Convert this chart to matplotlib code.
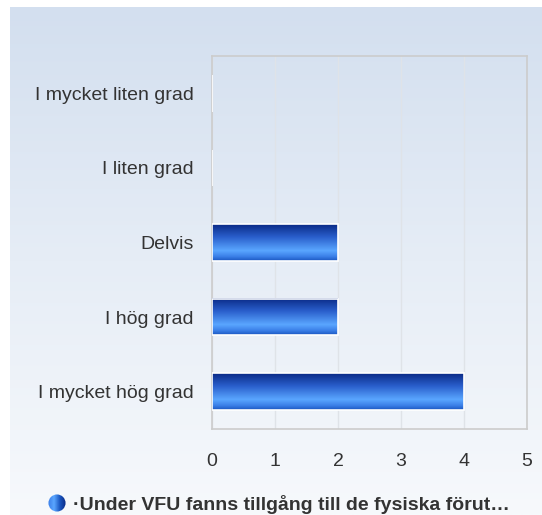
import numpy as np
import matplotlib
matplotlib.use("Agg")
import matplotlib.pyplot as plt
from matplotlib.colors import LinearSegmentedColormap
from matplotlib.patches import Rectangle, Circle

categories = ["I mycket liten grad", "I liten grad", "Delvis", "I hög grad", "I mycket hög grad"]
values = [0, 0, 2, 2, 4]
series_name = "·Under VFU fanns tillgång till de fysiska förut…"
xticks = [0, 1, 2, 3, 4, 5]

plt.rcParams['font.family'] = ['Liberation Sans', 'DejaVu Sans']

fig = plt.figure(figsize=(5.42, 5.15), dpi=100)
fig.patch.set_facecolor("white")

# background panel gradient
bg = fig.add_axes([10/542, 0, 1 - 10/542, (515-7)/515], zorder=0)
bg_cmap = LinearSegmentedColormap.from_list("bg", ["#d3dfef", "#e6edf6", "#f7f9fc"])
bg.imshow(np.linspace(0, 1, 256).reshape(-1, 1), cmap=bg_cmap, aspect="auto",
          extent=(0, 1, 0, 1), origin="upper")
bg.set_axis_off()

ax = fig.add_axes([212/542, (515-429)/515, 315/542, 373/515], zorder=1)
ax.set_facecolor("none")
ax.set_xlim(0, 5)
n = len(categories)
ax.set_ylim(n - 0.5, -0.5)

bar_cmap = LinearSegmentedColormap.from_list(
    "bar", [(0.0, "#0a2a86"), (0.35, "#2a5fcc"), (0.72, "#5aa6ff"), (0.88, "#3b80e8"), (1.0, "#1a56c0")])
grad = np.linspace(0, 1, 128).reshape(-1, 1)
h = 0.49
for i, v in enumerate(values):
    if v > 0:
        ax.imshow(grad, cmap=bar_cmap, aspect="auto",
                  extent=(0, v, i + h/2, i - h/2), origin="upper", zorder=3)
    ax.add_patch(Rectangle((0, i - h/2), v, h, facecolor="none", edgecolor="white",
                           linewidth=1.2, zorder=4))

ax.set_xticks(xticks)
ax.set_yticks(range(n))
ax.set_yticklabels(categories)
ax.tick_params(axis="both", length=0, labelsize=14, colors="#333333")
ax.tick_params(axis="x", pad=17)
ax.tick_params(axis="y", pad=13)
ax.grid(axis="x", color="#dfe3e8", linewidth=1, zorder=1)
ax.set_axisbelow(True)
for s in ax.spines.values():
    s.set_color("#cccccc")
    s.set_linewidth(1.2)

# legend
fig.text(73/542, 1 - 504/515, series_name, fontsize=14, fontweight="bold",
         color="#333333", va="center", ha="left")
leg_ax = fig.add_axes([48/542, 1 - 512/515, 18/542, 18/515], zorder=2)
leg_ax.set_axis_off()
leg_ax.set_xlim(-1, 1); leg_ax.set_ylim(-1, 1)
circ_grad = np.linspace(0, 1, 64).reshape(1, -1)
circ_cmap = LinearSegmentedColormap.from_list("c", ["#3c7fe8", "#5aa6ff", "#1a56c0", "#0a2a86"])
im = leg_ax.imshow(circ_grad, cmap=circ_cmap, extent=(-1, 1, -1, 1), aspect="auto")
c = Circle((0, 0), 0.95, transform=leg_ax.transData)
im.set_clip_path(c)

fig.savefig("out.png", dpi=100)
